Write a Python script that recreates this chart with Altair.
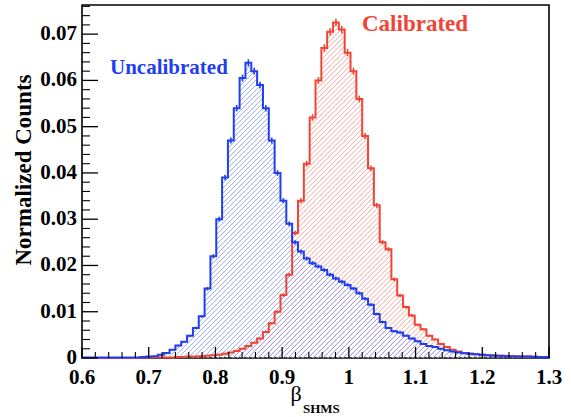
import altair as alt
import pandas as pd

# ---------------- data ----------------
BIN_LO, BIN_HI, N_BINS = 0.6, 1.3, 80

uncalibrated = [
    0.0001, 0.0001, 0.0001, 0.0001, 0.0001, 0.0001, 0.0001, 0.0001, 0.0001, 0.0001,
    0.0002, 0.0003, 0.0004, 0.0007, 0.0011, 0.0018, 0.0027, 0.0035, 0.0048, 0.0065,
    0.0090, 0.0150, 0.0220, 0.0300, 0.0390, 0.0470, 0.0540, 0.0605, 0.0638, 0.0620,
    0.0590, 0.0540, 0.0470, 0.0400, 0.0340, 0.0290, 0.0250, 0.0230, 0.0215, 0.0205,
    0.0198, 0.0190, 0.0180, 0.0172, 0.0165, 0.0158, 0.0150, 0.0140, 0.0128, 0.0115,
    0.0095, 0.0078, 0.0065, 0.0058, 0.0055, 0.0048, 0.0042, 0.0036, 0.0030, 0.0026,
    0.0024, 0.0020, 0.0017, 0.0014, 0.0012, 0.0010, 0.0009, 0.0008, 0.0007, 0.0006,
    0.0005, 0.0005, 0.0004, 0.0004, 0.0003, 0.0003, 0.0003, 0.0002, 0.0002, 0.0002,
]
uncalibrated_err = [
    0.00003, 0.00003, 0.00003, 0.00003, 0.00003, 0.00003, 0.00003, 0.00003, 0.00003, 0.00003,
    0.00004, 0.00005, 0.00006, 0.00008, 0.00010, 0.00013, 0.00016, 0.00018, 0.00021, 0.00024,
    0.00028, 0.00037, 0.00044, 0.00052, 0.00059, 0.00065, 0.00070, 0.00074, 0.00076, 0.00075,
    0.00073, 0.00070, 0.00065, 0.00060, 0.00055, 0.00051, 0.00047, 0.00045, 0.00044, 0.00043,
    0.00042, 0.00041, 0.00040, 0.00039, 0.00039, 0.00038, 0.00037, 0.00035, 0.00034, 0.00032,
    0.00029, 0.00026, 0.00024, 0.00023, 0.00022, 0.00021, 0.00019, 0.00018, 0.00016, 0.00015,
    0.00015, 0.00013, 0.00012, 0.00011, 0.00010, 0.00010, 0.00009, 0.00008, 0.00008, 0.00007,
    0.00007, 0.00007, 0.00006, 0.00006, 0.00005, 0.00005, 0.00005, 0.00004, 0.00004, 0.00004,
]

calibrated = [
    0.0000, 0.0000, 0.0000, 0.0000, 0.0000, 0.0000, 0.0000, 0.0000, 0.0000, 0.0000,
    0.0001, 0.0001, 0.0001, 0.0001, 0.0001, 0.0001, 0.0002, 0.0002, 0.0003, 0.0003,
    0.0004, 0.0005, 0.0006, 0.0007, 0.0009, 0.0012, 0.0015, 0.0020, 0.0026, 0.0033,
    0.0042, 0.0056, 0.0075, 0.0100, 0.0136, 0.0180, 0.0270, 0.0340, 0.0420, 0.0520,
    0.0600, 0.0670, 0.0705, 0.0725, 0.0710, 0.0660, 0.0620, 0.0560, 0.0480, 0.0410,
    0.0330, 0.0250, 0.0235, 0.0170, 0.0135, 0.0110, 0.0092, 0.0072, 0.0062, 0.0048,
    0.0040, 0.0030, 0.0024, 0.0018, 0.0014, 0.0011, 0.0009, 0.0008, 0.0007, 0.0006,
    0.0006, 0.0005, 0.0005, 0.0004, 0.0004, 0.0003, 0.0003, 0.0003, 0.0002, 0.0002,
]
calibrated_err = [
    0.0, 0.0, 0.0, 0.0, 0.0, 0.0, 0.0, 0.0, 0.0, 0.0,
    0.00003, 0.00003, 0.00003, 0.00003, 0.00003, 0.00003, 0.00004, 0.00004, 0.00005, 0.00005,
    0.00006, 0.00007, 0.00007, 0.00008, 0.00009, 0.00010, 0.00012, 0.00013, 0.00015, 0.00017,
    0.00019, 0.00022, 0.00026, 0.00030, 0.00035, 0.00040, 0.00049, 0.00055, 0.00061, 0.00068,
    0.00073, 0.00078, 0.00080, 0.00081, 0.00080, 0.00077, 0.00075, 0.00071, 0.00066, 0.00061,
    0.00054, 0.00047, 0.00046, 0.00039, 0.00035, 0.00031, 0.00029, 0.00025, 0.00024, 0.00021,
    0.00019, 0.00016, 0.00015, 0.00013, 0.00011, 0.00010, 0.00009, 0.00008, 0.00008, 0.00007,
    0.00007, 0.00007, 0.00007, 0.00006, 0.00006, 0.00005, 0.00005, 0.00005, 0.00004, 0.00004,
]

x_major = [0.6, 0.7, 0.8, 0.9, 1.0, 1.1, 1.2, 1.3]
x_labels = ["0.6", "0.7", "0.8", "0.9", "1", "1.1", "1.2", "1.3"]
x_minor = [round(0.6 + 0.02 * i, 3) for i in range(36) if i % 5 != 0]
y_major = [0.0, 0.01, 0.02, 0.03, 0.04, 0.05, 0.06, 0.07]
y_labels = ["0", "0.01", "0.02", "0.03", "0.04", "0.05", "0.06", "0.07"]
y_minor = [round(0.002 * i, 4) for i in range(39) if i % 5 != 0]

Y_MAX = 0.0763
W, H = 467, 353
BLUE = "#1f3ff0"
RED = "#f04535"
BLUE_HATCH = "#6078f2"
RED_HATCH = "#f2756b"
FONT = "Liberation Serif"

bw = (BIN_HI - BIN_LO) / N_BINS
edges = [BIN_LO + i * bw for i in range(N_BINS + 1)]
centers = [BIN_LO + (i + 0.5) * bw for i in range(N_BINS)]


def hist_df(vals):
    return pd.DataFrame({"x": edges, "y": list(vals) + [vals[-1]]})


def err_df(vals, errs):
    return pd.DataFrame({"x": centers,
                         "lo": [v - e for v, e in zip(vals, errs)],
                         "hi": [v + e for v, e in zip(vals, errs)]})


def hatch(color, peak, period=5.0, lw=1.0):
    """diagonal '///' hatching expressed as a striped linear gradient (soft-edged lines)"""
    hh = peak / Y_MAX * H
    T = W + hh
    n2 = W * W + hh * hh
    x2 = W * T / n2
    y2 = hh * T / n2
    stops = []
    clear = "rgba(255,255,255,0)"
    s = 0.0
    while s < T:
        a = s / T
        b = min((s + lw) / T, 1.0)
        c = min((s + 2 * lw) / T, 1.0)
        stops += [alt.GradientStop(offset=a, color=clear),
                  alt.GradientStop(offset=b, color=color),
                  alt.GradientStop(offset=c, color=clear)]
        s += period
    return alt.Gradient(gradient="linear", stops=stops, x1=0, y1=0, x2=x2, y2=y2)


xs = alt.Scale(domain=[BIN_LO, BIN_HI], nice=False, zero=False)
ys = alt.Scale(domain=[0, Y_MAX], nice=False)

xenc = alt.X("x:Q", scale=xs, axis=None)
yenc = alt.Y("y:Q", scale=ys, axis=None)

red_df = hist_df(calibrated)
blue_df = hist_df(uncalibrated)

red_area = alt.Chart(red_df).mark_area(
    interpolate="step-after", color=hatch(RED_HATCH, max(calibrated), lw=1.1)).encode(x=xenc, y=yenc)
blue_area = alt.Chart(blue_df).mark_area(
    interpolate="step-after", color=hatch(BLUE_HATCH, max(uncalibrated), lw=0.95)).encode(x=xenc, y=yenc)
red_line = alt.Chart(red_df).mark_line(
    interpolate="step-after", color=RED, strokeWidth=2).encode(x=xenc, y=yenc)
blue_line = alt.Chart(blue_df).mark_line(
    interpolate="step-after", color=BLUE, strokeWidth=2).encode(x=xenc, y=yenc)
red_err = alt.Chart(err_df(calibrated, calibrated_err)).mark_rule(
    color=RED, strokeWidth=1.6).encode(
    x=xenc, y=alt.Y("lo:Q", scale=ys, axis=None), y2="hi:Q")
blue_err = alt.Chart(err_df(uncalibrated, uncalibrated_err)).mark_rule(
    color=BLUE, strokeWidth=1.6).encode(
    x=xenc, y=alt.Y("lo:Q", scale=ys, axis=None), y2="hi:Q")

# inward ticks
ytick_major = alt.Chart(pd.DataFrame({"y": y_major})).mark_rule(
    color="black", strokeWidth=1.3).encode(y=yenc, x=alt.value(0), x2=alt.value(16))
ytick_minor = alt.Chart(pd.DataFrame({"y": y_minor})).mark_rule(
    color="black", strokeWidth=1.1).encode(y=yenc, x=alt.value(0), x2=alt.value(8))
xtick_major = alt.Chart(pd.DataFrame({"x": x_major})).mark_rule(
    color="black", strokeWidth=1.3).encode(x=xenc, y=alt.value(H), y2=alt.value(H - 11))
xtick_minor = alt.Chart(pd.DataFrame({"x": x_minor})).mark_rule(
    color="black", strokeWidth=1.1).encode(x=xenc, y=alt.value(H), y2=alt.value(H - 6))

# tick labels
ylab = alt.Chart(pd.DataFrame({"y": y_major, "t": y_labels})).mark_text(
    font=FONT, fontWeight="bold", fontSize=21, color="black", align="right",
    baseline="middle").encode(y=yenc, text="t:N", x=alt.value(-5))
xlab = alt.Chart(pd.DataFrame({"x": x_major, "t": x_labels})).mark_text(
    font=FONT, fontWeight="bold", fontSize=21, color="black", align="center",
    baseline="middle").encode(x=xenc, text="t:N", y=alt.value(H + 20))

# annotations
lab_unc = alt.Chart(pd.DataFrame({"t": ["Uncalibrated"]})).mark_text(
    font=FONT, fontWeight="bold", fontSize=21, color=BLUE, align="left", baseline="middle").encode(
    text="t:N", x=alt.value(28), y=alt.value(63))
lab_cal = alt.Chart(pd.DataFrame({"t": ["Calibrated"]})).mark_text(
    font=FONT, fontWeight="bold", fontSize=23, color=RED, align="left", baseline="middle").encode(
    text="t:N", x=alt.value(280), y=alt.value(19))
ytitle = alt.Chart(pd.DataFrame({"t": ["Normalized Counts"]})).mark_text(
    font=FONT, fontWeight="bold", fontSize=23, color="black", angle=270,
    align="center", baseline="middle").encode(
    text="t:N", x=alt.value(-58), y=alt.value(165))
xtitle_beta = alt.Chart(pd.DataFrame({"t": ["β"]})).mark_text(
    font=FONT, fontSize=22, color="black", align="center", baseline="alphabetic").encode(
    text="t:N", x=alt.value(214), y=alt.value(H + 43))
xtitle_sub = alt.Chart(pd.DataFrame({"t": ["SHMS"]})).mark_text(
    font=FONT, fontWeight="bold", fontSize=13, color="black", align="left", baseline="alphabetic").encode(
    text="t:N", x=alt.value(221), y=alt.value(H + 55))

chart = alt.layer(
    red_area, blue_area, red_line, red_err, blue_line, blue_err,
    ytick_minor, ytick_major, xtick_minor, xtick_major, ylab, xlab,
    lab_unc, lab_cal, ytitle, xtitle_beta, xtitle_sub,
).properties(
    width=W, height=H,
    autosize=alt.AutoSizeParams(type="none"),
    padding={"left": 82, "top": 5, "right": 22, "bottom": 59},
    background="white",
).configure_view(stroke="black", strokeWidth=1.6)

chart.save("out.html", embed_options={"renderer": "svg", "actions": False})
